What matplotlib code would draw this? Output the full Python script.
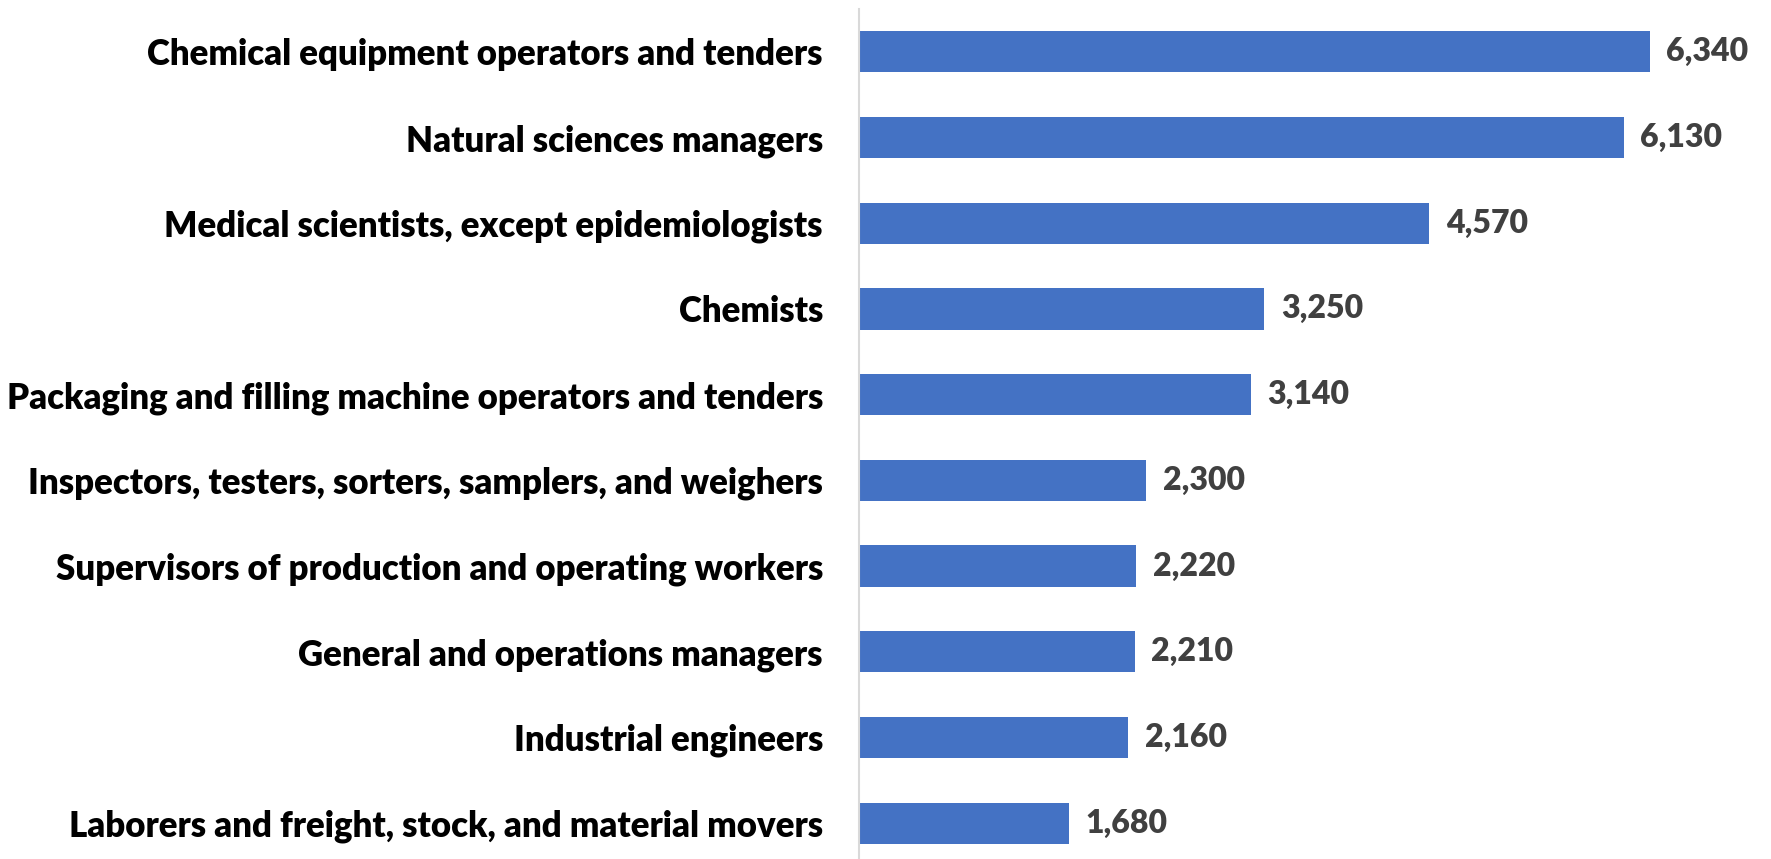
import matplotlib
matplotlib.use("Agg")
import matplotlib.pyplot as plt

occupations = [
    "Chemical equipment operators and tenders",
    "Natural sciences managers",
    "Medical scientists, except epidemiologists",
    "Chemists",
    "Packaging and filling machine operators and tenders",
    "Inspectors, testers, sorters, samplers, and weighers",
    "Supervisors of production and operating workers",
    "General and operations managers",
    "Industrial engineers",
    "Laborers and freight, stock, and material movers",
]
employment = [6340, 6130, 4570, 3250, 3140, 2300, 2220, 2210, 2160, 1680]

BAR_COLOR = "#4472C4"
LABEL_COLOR = "#404040"

plt.rcParams["font.family"] = ["Lato", "DejaVu Sans"]

fig = plt.figure(figsize=(17.71, 8.59), dpi=100)
ax = fig.add_axes([859 / 1771, -7 / 859, 898 / 1771, 857 / 859])

y = list(range(len(occupations)))
ax.barh(y, employment, height=0.48, color=BAR_COLOR)
ax.set_ylim(len(occupations) - 0.5, -0.5)
ax.set_xlim(0, 7200)

for yi, v in zip(y, employment):
    ax.annotate(f"{v:,}", xy=(v, yi), xytext=(12, 0), textcoords="offset points",
                ha="left", va="center", fontsize=23, fontweight="heavy", color=LABEL_COLOR)

ax.set_yticks(y)
ax.set_yticklabels(occupations, fontsize=25, fontweight="heavy", color="black")
ax.tick_params(axis="y", length=0, pad=26)
ax.set_xticks([])

for side in ["top", "right", "bottom"]:
    ax.spines[side].set_visible(False)
ax.spines["left"].set_color("#D9D9D9")
ax.spines["left"].set_linewidth(1.5)

fig.savefig("out.png", dpi=100)
